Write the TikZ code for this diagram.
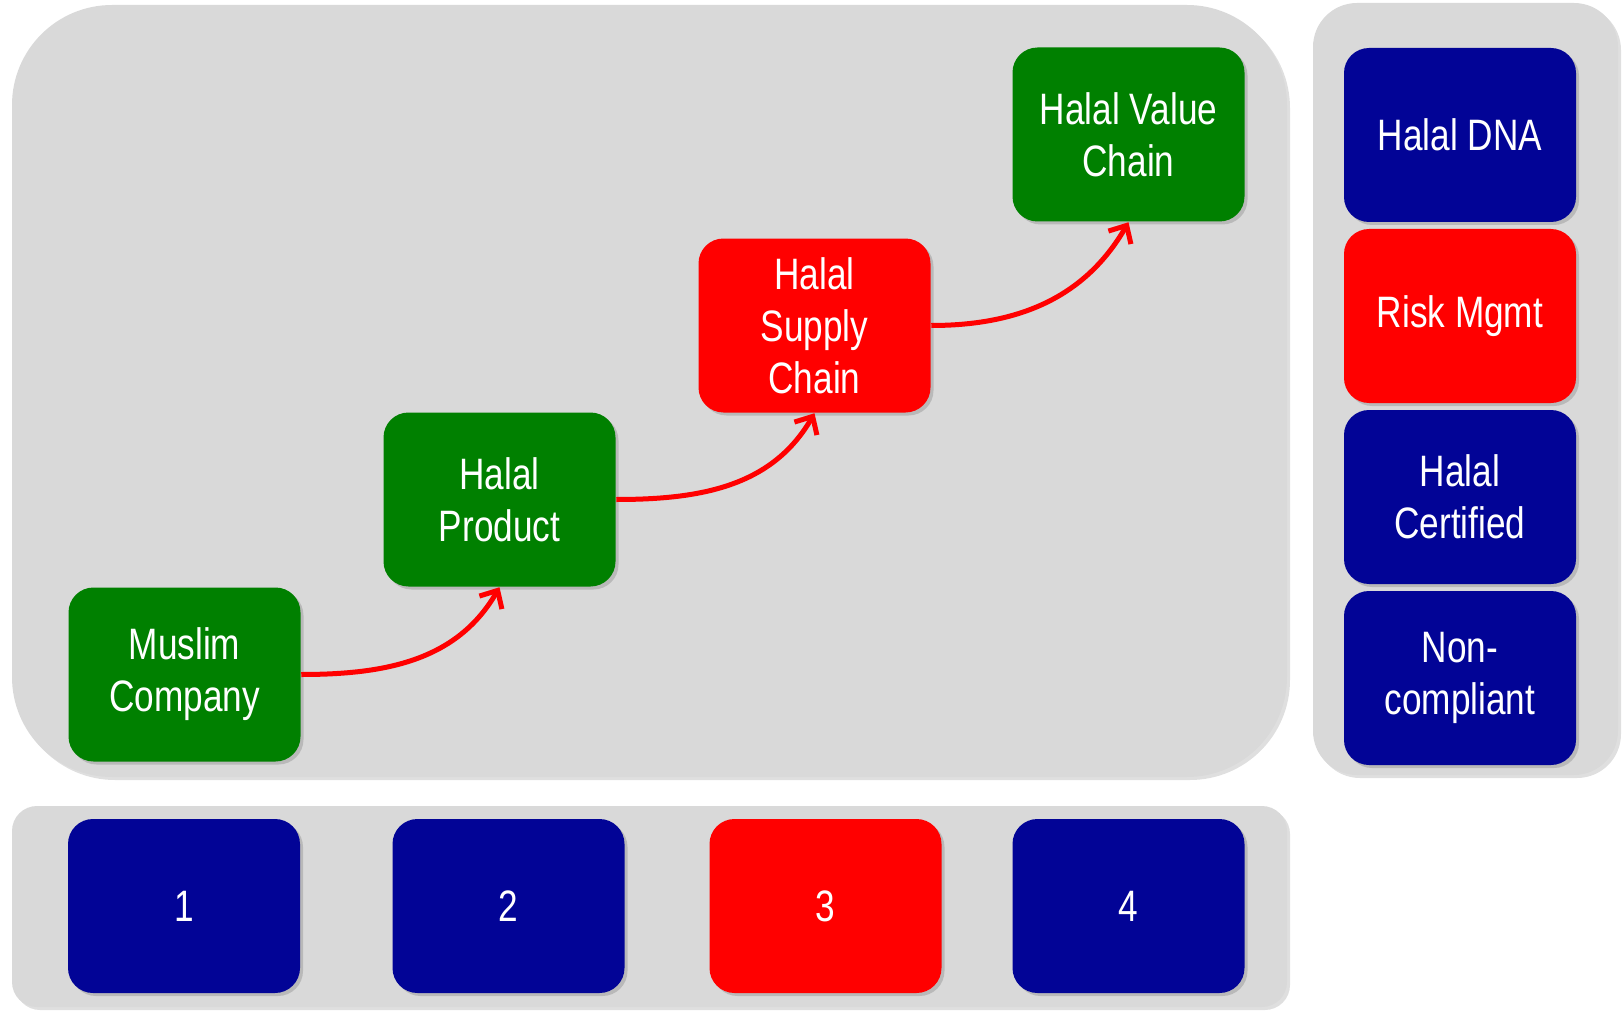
\documentclass[tikz,border=0pt]{standalone}
\usepackage{fontspec}
\setmainfont[FakeStretch=0.8]{Liberation Sans}
\usetikzlibrary{arrows.meta,shadows}

\definecolor{panelgray}{RGB}{217,217,217}
\definecolor{boxgreen}{RGB}{0,128,0}
\definecolor{boxblue}{RGB}{2,4,150}
\definecolor{boxred}{RGB}{255,0,0}

\tikzset{every picture/.style={line width=0.75pt}}
\tikzset{
  panel/.style={fill=panelgray, draw=none, drop shadow={shadow xshift=1.5pt, shadow yshift=-1.5pt, opacity=0.25}},
  box/.style={rounded corners=12.5pt, minimum width=116pt, minimum height=87pt, inner sep=0pt,
    text=white, align=center, font=\fontsize{22}{26}\selectfont,
    drop shadow={shadow xshift=1.5pt, shadow yshift=-1.5pt, opacity=0.35}},
  greenbox/.style={box, fill=boxgreen},
  bluebox/.style={box, fill=boxblue},
  redbox/.style={box, fill=boxred},
  link/.style={draw=boxred, line width=2.5pt, -{Straight Barb[length=7pt,width=13pt]}}
}

\begin{document}
\begin{tikzpicture}[x=0.5pt,y=0.5pt,yscale=-1,xscale=1]
\useasboundingbox (0,0) rectangle (1624,1011);

%Shape: Rounded Rect [main panel]
\path [panel, rounded corners=50pt] (12,5) rectangle (1287,777);
%Shape: Rounded Rect [right panel]
\path [panel, rounded corners=22pt] (1313,3) rectangle (1618,775);
%Shape: Rounded Rect [bottom panel]
\path [panel, rounded corners=12.5pt] (12,806) rectangle (1287,1007);

% Steps
\node [greenbox] (muslim) at (184.5,674.5) {Muslim\\Company};
\node [greenbox] (product) at (499.5,499.5) {Halal\\Product};
\node [redbox] (supply) at (814.5,325.5) {Halal\\Supply\\Chain};
\node [greenbox] (value) at (1128.5,134.5) {Halal Value\\Chain};

% Right column
\node [bluebox] (dna) at (1460,135) {Halal DNA};
\node [redbox] (risk) at (1460,316) {Risk Mgmt};
\node [bluebox] (certified) at (1460,497) {Halal\\Certified};
\node [bluebox] (noncomp) at (1460,678) {Non-\\compliant};

% Bottom row
\node [bluebox] (one) at (184,906) {1};
\node [bluebox] (two) at (508.5,906) {2};
\node [redbox] (three) at (825.5,906) {3};
\node [bluebox] (four) at (1128.5,906) {4};

%Curves
\draw [link] (muslim.east) to[out=0,in=120] (product.south);
\draw [link] (product.east) to[out=0,in=120] (supply.south);
\draw [link] (supply.east) to[out=0,in=120] (value.south);

\end{tikzpicture}
\end{document}
